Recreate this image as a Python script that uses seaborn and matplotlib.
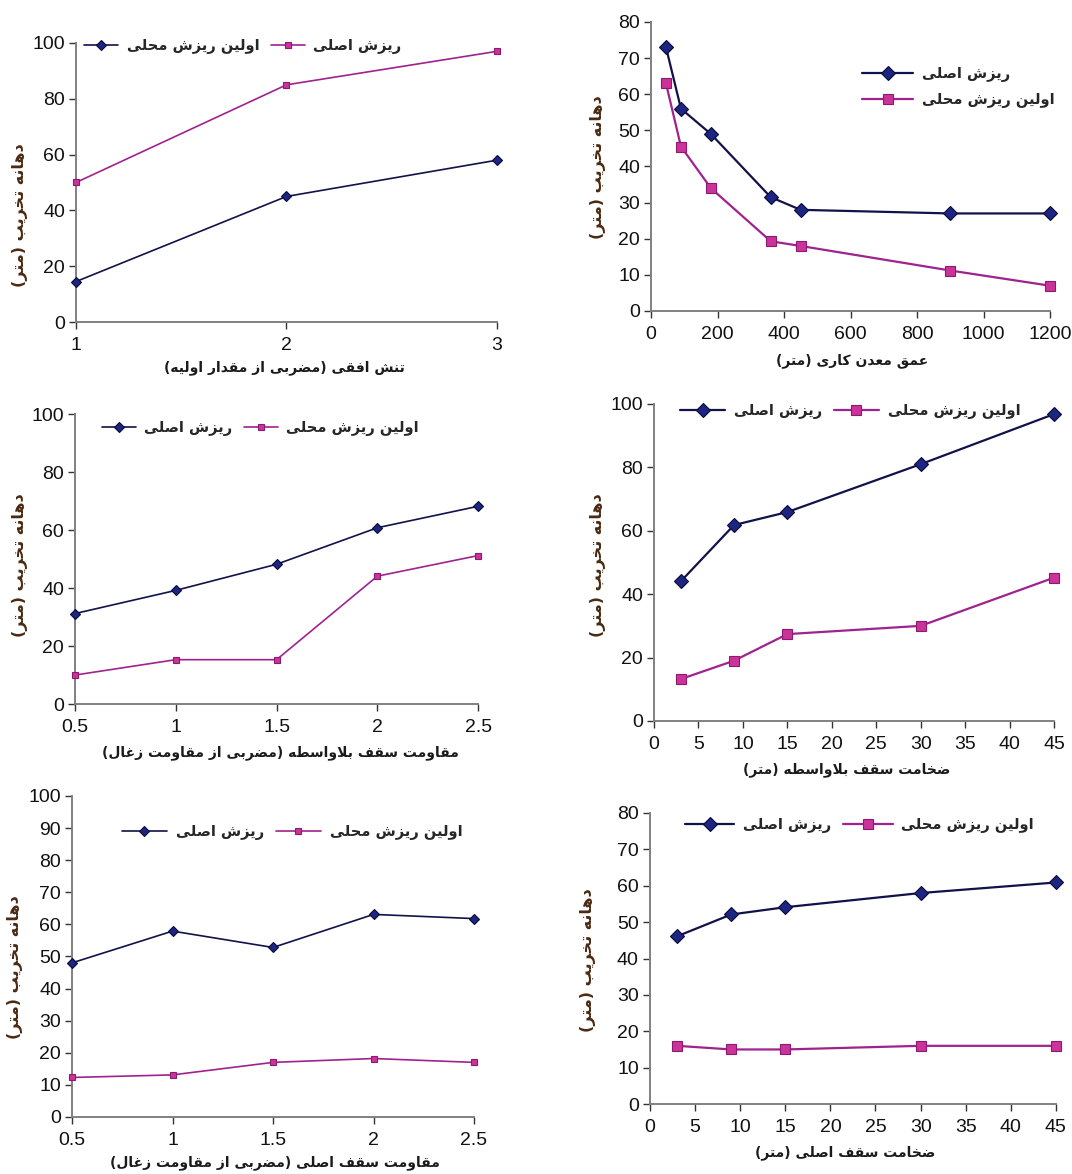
import matplotlib
matplotlib.use("Agg")
import matplotlib.pyplot as plt
from matplotlib.ticker import FuncFormatter
import seaborn as sns
import pandas as pd

# ---------------- data ----------------
p1_x = [1, 2, 3]
p1_navy = [14.5, 45, 58]
p1_mag = [50, 85, 97]

p2_x_navy = [45, 90, 180, 360, 450, 900, 1200]
p2_navy = [73, 56, 49, 31.5, 28, 27, 27]
p2_x_mag = [45, 90, 180, 360, 450, 900, 1200]
p2_mag = [63, 45.5, 34, 19.3, 18, 11.2, 7]

p3_x = [0.5, 1, 1.5, 2, 2.5]
p3_navy = [31.2, 39.2, 48.2, 60.8, 68.2]
p3_mag = [10, 15.3, 15.3, 44.1, 51.2]

p4_x = [3, 9, 15, 30, 45]
p4_navy = [44, 61.8, 65.9, 81, 96.8]
p4_mag = [13.2, 19, 27.4, 30, 45.2]

p5_x = [0.5, 1, 1.5, 2, 2.5]
p5_navy = [48, 57.9, 52.8, 63.1, 61.8]
p5_mag = [12.3, 13.1, 17, 18.2, 17]

p6_x = [3, 9, 15, 30, 45]
p6_navy = [46.1, 52.1, 54.1, 58, 60.9]
p6_mag = [16, 15, 15, 16, 16]

ylabel_txt = "دهانه تخریب (متر)"
main_txt = "ریزش اصلی"
local_txt = "اولین ریزش محلی"
xlabels = [
    "تنش افقی (مضربی از مقدار اولیه)",
    "عمق معدن\u200cکاری (متر)",
    "مقاومت سقف بلاواسطه (مضربی از مقاومت زغال)",
    "ضخامت سقف بلاواسطه (متر)",
    "مقاومت سقف اصلی (مضربی از مقاومت زغال)",
    "ضخامت سقف اصلی (متر)",
]

# ---------------- simple Persian shaping (presentation forms, visual order) -------------
FORMS = {
    '\u0627': ('\uFE8D', '\uFE8E', None, None),
    '\u0628': ('\uFE8F', '\uFE90', '\uFE91', '\uFE92'),
    '\u067E': ('\uFB56', '\uFB57', '\uFB58', '\uFB59'),
    '\u062A': ('\uFE95', '\uFE96', '\uFE97', '\uFE98'),
    '\u062B': ('\uFE99', '\uFE9A', '\uFE9B', '\uFE9C'),
    '\u062C': ('\uFE9D', '\uFE9E', '\uFE9F', '\uFEA0'),
    '\u0686': ('\uFB7A', '\uFB7B', '\uFB7C', '\uFB7D'),
    '\u062D': ('\uFEA1', '\uFEA2', '\uFEA3', '\uFEA4'),
    '\u062E': ('\uFEA5', '\uFEA6', '\uFEA7', '\uFEA8'),
    '\u062F': ('\uFEA9', '\uFEAA', None, None),
    '\u0630': ('\uFEAB', '\uFEAC', None, None),
    '\u0631': ('\uFEAD', '\uFEAE', None, None),
    '\u0632': ('\uFEAF', '\uFEB0', None, None),
    '\u0698': ('\uFB8A', '\uFB8B', None, None),
    '\u0633': ('\uFEB1', '\uFEB2', '\uFEB3', '\uFEB4'),
    '\u0634': ('\uFEB5', '\uFEB6', '\uFEB7', '\uFEB8'),
    '\u0635': ('\uFEB9', '\uFEBA', '\uFEBB', '\uFEBC'),
    '\u0636': ('\uFEBD', '\uFEBE', '\uFEBF', '\uFEC0'),
    '\u0637': ('\uFEC1', '\uFEC2', '\uFEC3', '\uFEC4'),
    '\u0638': ('\uFEC5', '\uFEC6', '\uFEC7', '\uFEC8'),
    '\u0639': ('\uFEC9', '\uFECA', '\uFECB', '\uFECC'),
    '\u063A': ('\uFECD', '\uFECE', '\uFECF', '\uFED0'),
    '\u0641': ('\uFED1', '\uFED2', '\uFED3', '\uFED4'),
    '\u0642': ('\uFED5', '\uFED6', '\uFED7', '\uFED8'),
    '\u06A9': ('\uFB8E', '\uFB8F', '\uFB90', '\uFB91'),
    '\u06AF': ('\uFB92', '\uFB93', '\uFB94', '\uFB95'),
    '\u0644': ('\uFEDD', '\uFEDE', '\uFEDF', '\uFEE0'),
    '\u0645': ('\uFEE1', '\uFEE2', '\uFEE3', '\uFEE4'),
    '\u0646': ('\uFEE5', '\uFEE6', '\uFEE7', '\uFEE8'),
    '\u0647': ('\uFEE9', '\uFEEA', '\uFEEB', '\uFEEC'),
    '\u0648': ('\uFEED', '\uFEEE', None, None),
    '\u06CC': ('\uFBFC', '\uFBFD', '\uFBFE', '\uFBFF'),
    '\u064A': ('\uFEF1', '\uFEF2', '\uFEF3', '\uFEF4'),
}


def fa(text):
    chars = list(text)
    n = len(chars)
    res = []
    i = 0
    while i < n:
        c = chars[i]
        if c not in FORMS:
            res.append(c)
            i += 1
            continue
        prev = chars[i - 1] if i > 0 else None
        prev_joins = prev in FORMS and FORMS[prev][2] is not None
        if c == '\u0644' and i + 1 < n and chars[i + 1] == '\u0627':
            res.append('\uFEFC' if prev_joins else '\uFEFB')
            i += 2
            continue
        nxt = chars[i + 1] if i + 1 < n else None
        next_joins = nxt in FORMS and FORMS[c][2] is not None
        iso, fin, ini, med = FORMS[c]
        if prev_joins and next_joins:
            res.append(med)
        elif prev_joins:
            res.append(fin)
        elif next_joins:
            res.append(ini)
        else:
            res.append(iso)
        i += 1
    s = ''.join(res).replace('\u200c', ' ')
    mirror = {'(': ')', ')': '('}
    return ''.join(mirror.get(ch, ch) for ch in reversed(s))


# ---------------- style ----------------
sns.set_theme(style="white")
plt.rcParams['font.family'] = ['Liberation Sans', 'DejaVu Sans']
FA_FONT = ['DejaVu Sans']

NAVY_LINE = '#12124a'
NAVY_FILL = '#1c2580'
NAVY_EDGE = '#0a0a3a'
MAG_LINE = '#a0228f'
MAG_FILL = '#cc3399'
MAG_EDGE = '#8a1a70'
SPINE = '#808080'
YLAB_COL = '#4a2a12'

fig = plt.figure(figsize=(10.72, 11.74), dpi=100)

panels = [
    dict(rect=[0.0709, 0.7257, 0.3927, 0.2377], xs=(p1_x, p1_x), ys=(p1_navy, p1_mag),
         labels=(local_txt, main_txt), xlim=(1, 3), xt=[1, 2, 3], ylim=(0, 100), yt=range(0, 101, 20),
         big=False, leg=dict(ncol=2, anchor=(0.02, 0.989), hl=2.3), xl=(0.496, -0.165), yl=(-0.133, 0.384)),
    dict(rect=[0.6073, 0.7351, 0.3722, 0.2462], xs=(p2_x_navy, p2_x_mag), ys=(p2_navy, p2_mag),
         labels=(main_txt, local_txt), xlim=(0, 1200), xt=range(0, 1201, 200), ylim=(0, 80), yt=range(0, 81, 10),
         big=True, leg=dict(ncol=1, anchor=(0.529, 0.775), hl=3.5), xl=(0.504, -0.17), yl=(-0.133, 0.498)),
    dict(rect=[0.0700, 0.4003, 0.3760, 0.2470], xs=(p3_x, p3_x), ys=(p3_navy, p3_mag),
         labels=(main_txt, local_txt), xlim=(0.5, 2.5), xt=[0.5, 1, 1.5, 2, 2.5], ylim=(0, 100), yt=range(0, 101, 20),
         big=False, leg=dict(ncol=2, anchor=(0.067, 0.952), hl=2.3), xl=(0.509, -0.169), yl=(-0.136, 0.479)),
    dict(rect=[0.6101, 0.3859, 0.3731, 0.2700], xs=(p4_x, p4_x), ys=(p4_navy, p4_mag),
         labels=(main_txt, local_txt), xlim=(0, 45), xt=range(0, 46, 5), ylim=(0, 100), yt=range(0, 101, 20),
         big=True, leg=dict(ncol=2, anchor=(0.065, 0.978), hl=3.1), xl=(0.4825, -0.155), yl=(-0.14, 0.492)),
    dict(rect=[0.0672, 0.0486, 0.3750, 0.2734], xs=(p5_x, p5_x), ys=(p5_navy, p5_mag),
         labels=(main_txt, local_txt), xlim=(0.5, 2.5), xt=[0.5, 1, 1.5, 2, 2.5], ylim=(0, 100), yt=range(0, 101, 10),
         big=False, leg=dict(ncol=2, anchor=(0.124, 0.888), hl=3.1), xl=(0.505, -0.143), yl=(-0.142, 0.467)),
    dict(rect=[0.6063, 0.0596, 0.3787, 0.2479], xs=(p6_x, p6_x), ys=(p6_navy, p6_mag),
         labels=(main_txt, local_txt), xlim=(0, 45), xt=range(0, 46, 5), ylim=(0, 80), yt=range(0, 81, 10),
         big=True, leg=dict(ncol=2, anchor=(0.086, 0.959), hl=3.4), xl=(0.48, -0.168), yl=(-0.153, 0.495)),
]

fmt = FuncFormatter(lambda v, p: f"{v:g}")

for k, P in enumerate(panels):
    ax = fig.add_axes(P['rect'])
    if P['big']:
        dsz, ssz, lw = 7.0, 7.0, 1.6
    else:
        dsz, ssz, lw = 4.6, 4.6, 1.2
    d_navy = pd.DataFrame({'x': P['xs'][0], 'y': P['ys'][0]})
    d_mag = pd.DataFrame({'x': P['xs'][1], 'y': P['ys'][1]})
    sns.lineplot(data=d_navy, x='x', y='y', ax=ax, color=NAVY_LINE, lw=lw, marker='D',
                 markersize=dsz, markerfacecolor=NAVY_FILL, markeredgecolor=NAVY_EDGE,
                 markeredgewidth=0.8, label=fa(P['labels'][0]), zorder=3, clip_on=False)
    sns.lineplot(data=d_mag, x='x', y='y', ax=ax, color=MAG_LINE, lw=lw, marker='s',
                 markersize=ssz, markerfacecolor=MAG_FILL, markeredgecolor=MAG_EDGE,
                 markeredgewidth=0.8, label=fa(P['labels'][1]), zorder=3, clip_on=False)
    ax.set_xlim(*P['xlim'])
    ax.set_ylim(*P['ylim'])
    ax.set_xticks(list(P['xt']))
    ax.set_yticks(list(P['yt']))
    ax.xaxis.set_major_formatter(fmt)
    ax.yaxis.set_major_formatter(fmt)
    ax.set_xlabel('')
    ax.set_ylabel('')
    for s in ['top', 'right']:
        ax.spines[s].set_visible(False)
    for s in ['left', 'bottom']:
        ax.spines[s].set_visible(True)
        ax.spines[s].set_color(SPINE)
        ax.spines[s].set_linewidth(1.4)
    ax.tick_params(axis='both', which='major', direction='out', length=5, width=1.0,
                   color='#333333', labelsize=14, labelcolor='#111111', pad=3,
                   bottom=True, left=True)
    ax.tick_params(axis='x', pad=6)
    ax.patch.set_alpha(0)

    ax.legend(loc='center left', bbox_to_anchor=P['leg']['anchor'], ncol=P['leg']['ncol'],
              frameon=False, borderpad=0, borderaxespad=0, handlelength=P['leg']['hl'],
              handletextpad=0.6, columnspacing=0.8, labelspacing=0.7,
              prop={'family': FA_FONT, 'size': 10.5, 'weight': 'bold'})
    ax.text(P['xl'][0], P['xl'][1], fa(xlabels[k]), transform=ax.transAxes, ha='center', va='center',
            family=FA_FONT, fontsize=10, fontweight='bold', color='#1a1a1a')
    ax.text(P['yl'][0], P['yl'][1], fa(ylabel_txt), transform=ax.transAxes, ha='center', va='center',
            rotation=90, family=FA_FONT, fontsize=11.5, fontweight='bold', color=YLAB_COL)

fig.savefig('out.png', dpi=100)
